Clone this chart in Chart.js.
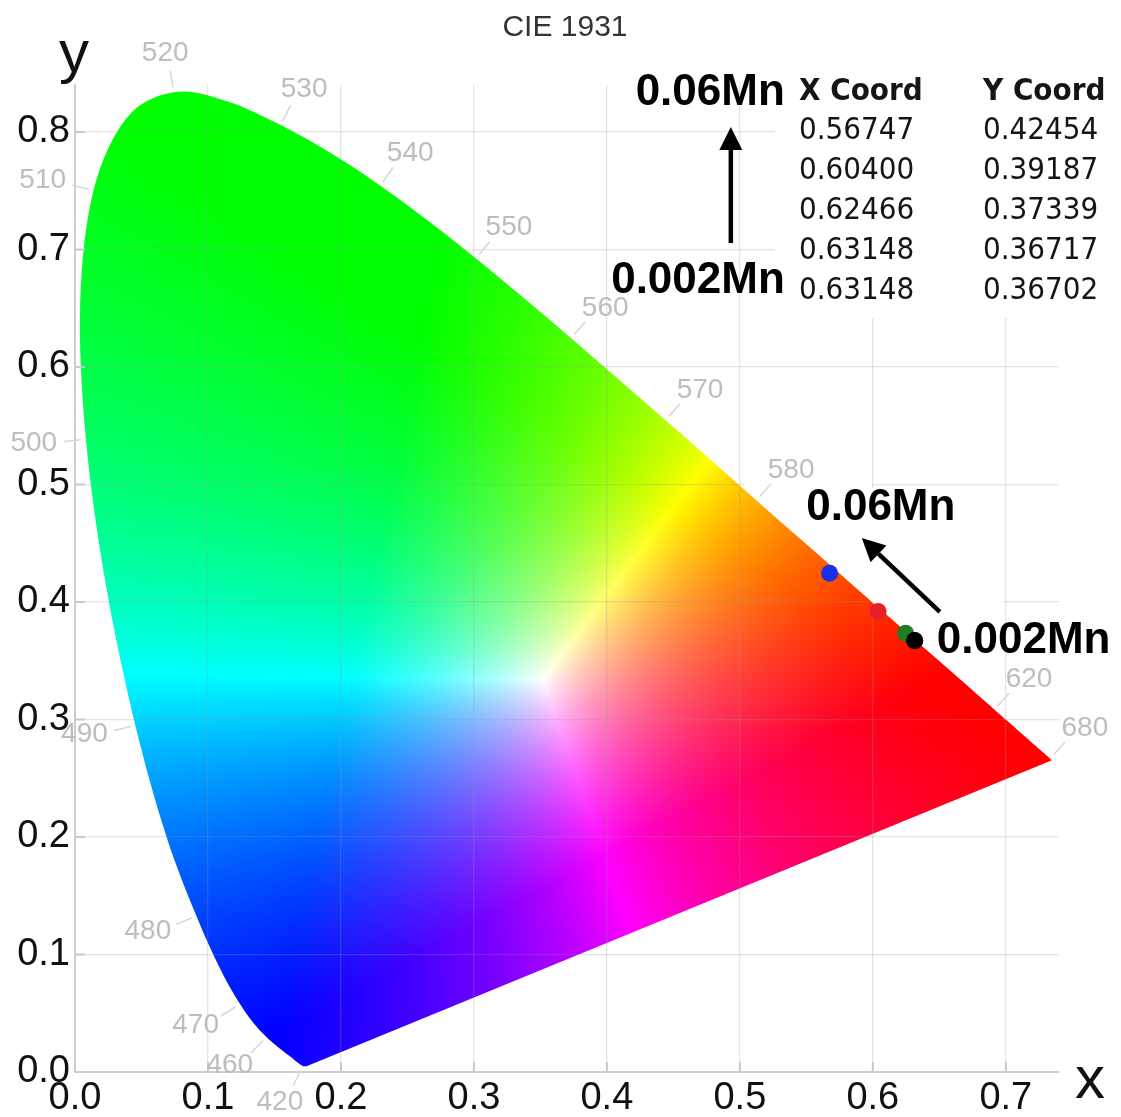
<!DOCTYPE html>
<html>
<head>
<meta charset="utf-8">
<title>CIE 1931</title>
<script src="https://cdn.jsdelivr.net/npm/chart.js@4.4.1/dist/chart.umd.min.js"></script>
<style>
  html, body { margin: 0; padding: 0; background: #fff; }
  #wrap { width: 1121px; height: 1117px; position: relative; }
</style>
</head>
<body>
<div id="wrap"><canvas id="chart"></canvas></div>
<script>
// spectral locus, CIE 1931 2° observer, 380-700 nm every 5 nm
const wavelengths = [380, 385, 390, 395, 400, 405, 410, 415, 420, 425, 430, 435, 440, 445, 450, 455,
  460, 465, 470, 475, 480, 485, 490, 495, 500, 505, 510, 515, 520, 525, 530, 535, 540, 545, 550, 555,
  560, 565, 570, 575, 580, 585, 590, 595, 600, 605, 610, 615, 620, 625, 630, 635, 640, 645, 650, 655,
  660, 665, 670, 675, 680, 685, 690, 695, 700];
const locusX = [0.1741, 0.1740, 0.1738, 0.1736, 0.1733, 0.1730, 0.1726, 0.1721, 0.1714, 0.1703, 0.1689,
  0.1669, 0.1644, 0.1611, 0.1566, 0.1510, 0.1440, 0.1355, 0.1241, 0.1096, 0.0913, 0.0687, 0.0454, 0.0235,
  0.0082, 0.0039, 0.0139, 0.0389, 0.0743, 0.1142, 0.1547, 0.1929, 0.2296, 0.2658, 0.3016, 0.3373, 0.3731,
  0.4087, 0.4441, 0.4788, 0.5125, 0.5448, 0.5752, 0.6029, 0.6270, 0.6482, 0.6658, 0.6801, 0.6915, 0.7006,
  0.7079, 0.7140, 0.7190, 0.7230, 0.7260, 0.7283, 0.7300, 0.7311, 0.7320, 0.7327, 0.7334, 0.7340, 0.7344,
  0.7346, 0.7347];
const locusY = [0.0050, 0.0050, 0.0049, 0.0049, 0.0048, 0.0048, 0.0048, 0.0048, 0.0051, 0.0058, 0.0069,
  0.0086, 0.0109, 0.0138, 0.0177, 0.0227, 0.0297, 0.0399, 0.0578, 0.0868, 0.1327, 0.2007, 0.2950, 0.4127,
  0.5384, 0.6548, 0.7502, 0.8120, 0.8338, 0.8262, 0.8059, 0.7816, 0.7543, 0.7243, 0.6923, 0.6589, 0.6245,
  0.5896, 0.5547, 0.5202, 0.4866, 0.4544, 0.4242, 0.3965, 0.3725, 0.3514, 0.3340, 0.3197, 0.3083, 0.2993,
  0.2920, 0.2859, 0.2809, 0.2770, 0.2740, 0.2717, 0.2700, 0.2689, 0.2680, 0.2673, 0.2666, 0.2660, 0.2656,
  0.2654, 0.2653];

// wavelengths that get a label along the locus
const markedWavelengths = [420, 460, 470, 480, 490, 500, 510, 520, 530, 540, 550, 560, 570, 580, 620, 680];

// measured chromaticity, 0.06Mn down to 0.002Mn
const sampleX = [0.56747, 0.60400, 0.62466, 0.63148, 0.63148];
const sampleY = [0.42454, 0.39187, 0.37339, 0.36717, 0.36702];
const sampleColors = ['#1830e8', '#e81e2a', '#1f7d22', '#000000', '#000000'];
const tableHeaders = ['X Coord', 'Y Coord'];

const xTicks = [0.0, 0.1, 0.2, 0.3, 0.4, 0.5, 0.6, 0.7];
const xTickLabels = ['0.0', '0.1', '0.2', '0.3', '0.4', '0.5', '0.6', '0.7'];
const yTicks = [0.0, 0.1, 0.2, 0.3, 0.4, 0.5, 0.6, 0.7, 0.8];
const yTickLabels = ['0.0', '0.1', '0.2', '0.3', '0.4', '0.5', '0.6', '0.7', '0.8'];

// display primaries / white used to colour the gamut (linear, max-normalised)
const RGB_PRIMARIES = [[0.64, 0.33], [0.26, 0.63], [0.15, 0.033]];
const WHITE = [0.352, 0.334];

function inv3(m) {
  const [a, b, c] = m[0], [d, e, f] = m[1], [g, h, i] = m[2];
  const A = e * i - f * h, B = -(d * i - f * g), C = d * h - e * g;
  const det = a * A + b * B + c * C;
  return [
    [A / det, -(b * i - c * h) / det, (b * f - c * e) / det],
    [B / det, (a * i - c * g) / det, -(a * f - c * d) / det],
    [C / det, -(a * h - b * g) / det, (a * e - b * d) / det]
  ];
}

function xyzToRgbMatrix(prim, white) {
  const col = ([x, y]) => [x / y, 1, (1 - x - y) / y];
  const P = prim.map(col);
  const A = [0, 1, 2].map(r => [P[0][r], P[1][r], P[2][r]]);
  const W = col(white);
  const Ai = inv3(A);
  const s = Ai.map(r => r[0] * W[0] + r[1] * W[1] + r[2] * W[2]);
  return inv3(A.map(r => r.map((v, j) => v * s[j])));
}
const XYZ_RGB = xyzToRgbMatrix(RGB_PRIMARIES, WHITE);

function locusPixels(xs, ys) {
  return locusX.map((v, i) => [xs.getPixelForValue(v), ys.getPixelForValue(locusY[i])]);
}

// smooth closed outline of the horseshoe (catmull-rom through the locus, straight purple line)
function traceLocus(ctx, pts) {
  const n = pts.length;
  const P = i => pts[Math.max(0, Math.min(n - 1, i))];
  ctx.moveTo(pts[0][0], pts[0][1]);
  for (let i = 0; i < n - 1; i++) {
    const p0 = P(i - 1), p1 = P(i), p2 = P(i + 1), p3 = P(i + 2);
    ctx.bezierCurveTo(
      p1[0] + (p2[0] - p0[0]) / 6, p1[1] + (p2[1] - p0[1]) / 6,
      p2[0] - (p3[0] - p1[0]) / 6, p2[1] - (p3[1] - p1[1]) / 6,
      p2[0], p2[1]);
  }
  ctx.closePath();
}

const gamutFill = {
  id: 'gamutFill',
  beforeDraw(chart) {
    const { ctx, chartArea: a, scales: { x, y } } = chart;
    const left = Math.floor(a.left), top = Math.floor(a.top);
    const w = Math.ceil(a.right) - left, h = Math.ceil(a.bottom) - top;
    const off = document.createElement('canvas');
    off.width = w; off.height = h;
    const octx = off.getContext('2d');
    const img = octx.createImageData(w, h);
    const d = img.data;
    const M = XYZ_RGB;
    const xv = new Float64Array(w);
    for (let i = 0; i < w; i++) xv[i] = x.getValueForPixel(left + i + 0.5);
    for (let j = 0; j < h; j++) {
      const cy = Math.max(y.getValueForPixel(top + j + 0.5), 0.002);
      for (let i = 0; i < w; i++) {
        const cx = xv[i];
        const X = cx / cy, Z = (1 - cx - cy) / cy;
        let r = M[0][0] * X + M[0][1] + M[0][2] * Z;
        let g = M[1][0] * X + M[1][1] + M[1][2] * Z;
        let b = M[2][0] * X + M[2][1] + M[2][2] * Z;
        r = r > 0 ? r : 0; g = g > 0 ? g : 0; b = b > 0 ? b : 0;
        const m = Math.max(r, g, b) || 1;
        const k = (j * w + i) * 4;
        d[k] = r / m * 255;
        d[k + 1] = g / m * 255;
        d[k + 2] = b / m * 255;
        d[k + 3] = 255;
      }
    }
    octx.putImageData(img, 0, 0);
    ctx.save();
    ctx.beginPath();
    traceLocus(ctx, locusPixels(x, y));
    ctx.clip();
    ctx.drawImage(off, left, top);
    ctx.restore();
  }
};

// wavelength marks, inner axis ticks and white panels behind the annotations
const decorations = {
  id: 'decorations',
  beforeDatasetsDraw(chart) {
    const { ctx, chartArea: a, scales: { x, y } } = chart;
    const pts = locusPixels(x, y);

    ctx.save();
    ctx.beginPath();
    ctx.rect(0, 0, chart.width, chart.height);
    traceLocus(ctx, pts);
    ctx.clip('evenodd');
    ctx.fillStyle = '#fff';
    ctx.fillRect(775, 60, 346, 258);
    ctx.fillRect(745, 479, 127, 125);
    ctx.fillRect(871, 488, 132, 116);
    ctx.restore();

    ctx.save();
    ctx.strokeStyle = '#c9c9c9';
    ctx.lineWidth = 2;
    yTicks.slice(1).forEach(v => {
      const py = y.getPixelForValue(v);
      ctx.beginPath(); ctx.moveTo(a.left, py); ctx.lineTo(a.left + 10, py); ctx.stroke();
    });
    xTicks.slice(1).forEach(v => {
      const px = x.getPixelForValue(v);
      ctx.beginPath(); ctx.moveTo(px, a.bottom); ctx.lineTo(px, a.bottom - 10); ctx.stroke();
    });

    ctx.font = "28px 'Liberation Sans', Arial, sans-serif";
    ctx.textAlign = 'center';
    ctx.textBaseline = 'middle';
    markedWavelengths.forEach(wl => {
      const i = wavelengths.indexOf(wl);
      const p = pts[i];
      const p0 = pts[Math.max(0, i - 1)], p1 = pts[Math.min(pts.length - 1, i + 1)];
      let tx = p1[0] - p0[0], ty = p1[1] - p0[1];
      const len = Math.hypot(tx, ty) || 1;
      tx /= len; ty /= len;
      const nx = ty, ny = -tx;
      ctx.strokeStyle = '#d6d6d6';
      ctx.lineWidth = 1.5;
      ctx.beginPath();
      ctx.moveTo(p[0] + nx * 5, p[1] + ny * 5);
      ctx.lineTo(p[0] + nx * 22, p[1] + ny * 22);
      ctx.stroke();
      const label = String(wl);
      const tw = ctx.measureText(label).width;
      ctx.fillStyle = '#bdbdbd';
      ctx.fillText(label, p[0] + nx * 29 + nx * tw / 2, p[1] + ny * 29 + ny * 11);
    });
    ctx.restore();
  },
  afterDraw(chart) {
    const { ctx, chartArea: a, scales: { x, y } } = chart;
    const px = v => x.getPixelForValue(v), py = v => y.getPixelForValue(v);
    ctx.save();

    // title and axis letters
    ctx.fillStyle = '#333';
    ctx.font = "30px 'Liberation Sans', Arial, sans-serif";
    ctx.textAlign = 'center';
    ctx.textBaseline = 'middle';
    ctx.fillText('CIE 1931', 565, 28);
    ctx.fillStyle = '#111';
    ctx.font = "60px 'Liberation Sans', Arial, sans-serif";
    ctx.textBaseline = 'alphabetic';
    ctx.fillText('y', a.left - 1, 72);
    ctx.fillText('x', 1090, 1098);

    // coordinate table
    const colX = [799, 983];
    ctx.textAlign = 'left';
    ctx.textBaseline = 'middle';
    ctx.fillStyle = '#151515';
    ctx.font = "bold 31px 'DejaVu Sans Condensed', 'DejaVu Sans', sans-serif";
    tableHeaders.forEach((t, c) => ctx.fillText(t, colX[c], 92));
    ctx.font = "31px 'DejaVu Sans Condensed', 'DejaVu Sans', sans-serif";
    sampleX.forEach((v, r) => {
      ctx.fillText(v.toFixed(5), colX[0], 131 + r * 40);
      ctx.fillText(sampleY[r].toFixed(5), colX[1], 131 + r * 40);
    });

    // shift arrows
    const arrow = (x0, y0, x1, y1) => {
      const ang = Math.atan2(y1 - y0, x1 - x0);
      const hl = 23, hw = 11.5;
      const bx = x1 - Math.cos(ang) * hl, by = y1 - Math.sin(ang) * hl;
      ctx.strokeStyle = '#000';
      ctx.lineWidth = 4.5;
      ctx.beginPath(); ctx.moveTo(x0, y0); ctx.lineTo(bx, by); ctx.stroke();
      ctx.fillStyle = '#000';
      ctx.beginPath();
      ctx.moveTo(x1, y1);
      ctx.lineTo(bx + Math.sin(ang) * hw, by - Math.cos(ang) * hw);
      ctx.lineTo(bx - Math.sin(ang) * hw, by + Math.cos(ang) * hw);
      ctx.closePath(); ctx.fill();
    };
    arrow(px(0.4932), py(0.7055), px(0.4932), py(0.8043));
    arrow(px(0.6504), py(0.3915), px(0.5917), py(0.4545));

    ctx.fillStyle = '#000';
    ctx.font = "bold 44px 'Liberation Sans', Arial, sans-serif";
    ctx.textBaseline = 'middle';
    ctx.textAlign = 'right';
    ctx.fillText('0.06Mn', px(0.5338), py(0.8332));
    ctx.fillText('0.002Mn', px(0.5338), py(0.6732));
    ctx.textAlign = 'center';
    ctx.fillText('0.06Mn', px(0.606), py(0.480));
    ctx.textAlign = 'left';
    ctx.fillText('0.002Mn', px(0.6481), py(0.3668));
    ctx.restore();
  }
};

const tickFont = { family: "'Liberation Sans', Arial, sans-serif", size: 38 };
const gridStyle = { color: 'rgba(150,150,150,0.26)', lineWidth: 1.3, drawTicks: false };
const borderStyle = { color: '#cdcdcd', width: 2 };

new Chart(document.getElementById('chart'), {
  type: 'scatter',
  data: {
    datasets: [{
      label: 'samples',
      data: sampleX.map((v, i) => ({ x: v, y: sampleY[i] })),
      pointRadius: 8.5,
      pointBorderWidth: 0,
      pointBackgroundColor: sampleColors,
      pointBorderColor: sampleColors
    }]
  },
  options: {
    responsive: true,
    maintainAspectRatio: false,
    animation: false,
    events: [],
    layout: { padding: { top: 85, right: 62, left: 0, bottom: 0 } },
    plugins: { legend: { display: false }, tooltip: { enabled: false }, title: { display: false } },
    scales: {
      x: {
        type: 'linear', min: 0, max: 0.74,
        afterBuildTicks: s => { s.ticks = xTicks.map(v => ({ value: v })); },
        afterFit: s => { s.height = 45; },
        ticks: { font: tickFont, color: '#111', padding: 4, maxRotation: 0, autoSkip: false,
          callback: (v, i) => xTickLabels[i] },
        grid: gridStyle,
        border: borderStyle
      },
      y: {
        type: 'linear', min: 0, max: 0.84,
        afterBuildTicks: s => { s.ticks = yTicks.map(v => ({ value: v })); },
        afterFit: s => { s.width = 75; },
        ticks: { font: tickFont, color: '#111', padding: 5, autoSkip: false,
          callback: (v, i) => yTickLabels[i] },
        grid: gridStyle,
        border: borderStyle
      }
    }
  },
  plugins: [gamutFill, decorations]
});
</script>
</body>
</html>
